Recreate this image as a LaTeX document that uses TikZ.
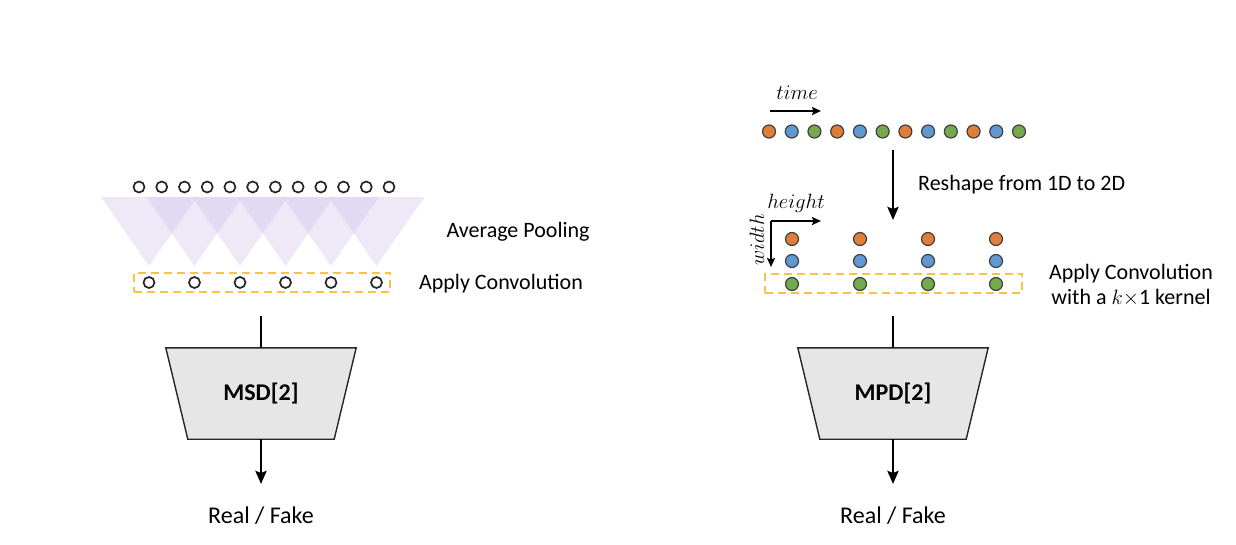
\documentclass[tikz,border=0pt]{standalone}
\usepackage{fontspec}
\setmainfont{Carlito}
\usetikzlibrary{arrows.meta}
\definecolor{cOrange}{RGB}{224,125,57}
\definecolor{cBlue}{RGB}{96,152,210}
\definecolor{cGreen}{RGB}{116,170,76}
\definecolor{cGold}{RGB}{250,196,60}
\definecolor{cLav}{RGB}{205,190,232}
\definecolor{cEdge}{RGB}{64,64,64}
\definecolor{cBox}{RGB}{230,230,230}
\begin{document}
\begin{tikzpicture}[x=1pt,y=-1pt,
  hollow/.style={circle,draw=black!85,line width=1.7pt,inner sep=0pt,minimum size=11pt,fill=white},
  dot/.style={circle,draw=cEdge,line width=1.2pt,inner sep=0pt,minimum size=13pt},
  convbox/.style={draw=cGold,line width=2.4pt,dash pattern=on 8pt off 5pt,inner sep=0pt},
  lbl/.style={font=\fontsize{22}{26}\selectfont,inner sep=0pt},
  var/.style={font=\fontsize{20}{24}\selectfont,inner sep=0pt},
  disc/.style={minimum width=190pt,minimum height=91pt,inner sep=0pt,
    font=\fontsize{24}{28}\selectfont\bfseries},
  discshape/.style={draw=black!85,line width=1.4pt,fill=cBox},
  conn/.style={line width=2.8pt},
  arr/.style={line width=2.8pt,-{Stealth[length=13pt,width=11pt,inset=2pt]}},
  smallarr/.style={line width=2.6pt,-{Stealth[length=9pt,width=8pt,inset=1.5pt]}},
  tri/.style={fill=cLav,fill opacity=0.35}
]
\useasboundingbox (0,0) rectangle (1236,544);

% ---------- LEFT: MSD ----------
\foreach \i in {0,...,5}{
  \pgfmathsetmacro{\ax}{149+45.5*\i}
  \fill[tri] (\ax-48,197) -- (\ax+48,197) -- (\ax,266) -- cycle;
}
\foreach \i in {0,...,11}{
  \node[hollow] (a\i) at ({139+22.727*\i},187) {};
}
\node[convbox,minimum width=256pt,minimum height=19.5pt] (lconv) at (262,282.5) {};
\foreach \i in {0,...,5}{
  \node[hollow] (b\i) at ({149+45.5*\i},282.5) {};
}
\node[lbl] (lpool) at (518,232) {Average Pooling};
\node[lbl] (lapply) at (501,284) {Apply Convolution};

\node[disc] (msd) at (261,393.5) {};
\draw[discshape] (msd.north west) -- (msd.north east) -- ([xshift=-22pt]msd.south east)
  -- ([xshift=22pt]msd.south west) -- cycle;
\node[disc] at (msd.center) {MSD[2]};
\coordinate (msdin) at (261,316);
\coordinate (msdout) at (261,484);
\draw[conn] (msdin) -- (msd.north);
\draw[arr] (msd.south) -- (msdout);
\node[font=\fontsize{24}{28}\selectfont,inner sep=0pt] (lreal) at (261,516) {Real / Fake};

% ---------- RIGHT: MPD ----------
\node[var] (time) at (797,93) {$time$};
\coordinate (ts) at (770,111);
\coordinate (te) at (821,111);
\draw[smallarr] (ts) -- (te);
\foreach \i in {0,...,11}{
  \pgfmathtruncatemacro{\m}{mod(\i,3)}
  \ifcase\m \def\cc{cOrange}\or \def\cc{cBlue}\or \def\cc{cGreen}\fi
  \node[dot,fill=\cc] (c\i) at ({769+22.727*\i},131.5) {};
}
\coordinate (rs) at (893,150);
\coordinate (re) at (893,220);
\draw[arr] (rs) -- (re);
\node[lbl,anchor=west] (reshape) at (918,185) {Reshape from 1D to 2D};

\node[var] (height) at (796,203) {$height$};
\node[var,rotate=90] (width) at (757,240) {$width$};
\coordinate (corner) at (771,221);
\coordinate (hend) at (821,221);
\coordinate (wend) at (771,267);
\draw[smallarr] (corner) -- (hend);
\draw[smallarr] (corner) -- (wend);

\node[convbox,minimum width=257pt,minimum height=19.5pt] (rconv) at (893.5,283.5) {};
\foreach \j/\x in {0/792,1/860,2/928,3/996}{
  \node[dot,fill=cOrange] (o\j) at (\x,239) {};
  \node[dot,fill=cBlue] (u\j) at (\x,261) {};
  \node[dot,fill=cGreen] (g\j) at (\x,284) {};
}
\node[lbl,align=center] (rapply) at (1131,285.5) {Apply Convolution\\[-1pt]with a $k{\times}$1 kernel};

\node[disc] (mpd) at (893,393.5) {};
\draw[discshape] (mpd.north west) -- (mpd.north east) -- ([xshift=-22pt]mpd.south east)
  -- ([xshift=22pt]mpd.south west) -- cycle;
\node[disc] at (mpd.center) {MPD[2]};
\coordinate (mpdin) at (893,316);
\coordinate (mpdout) at (893,484);
\draw[conn] (mpdin) -- (mpd.north);
\draw[arr] (mpd.south) -- (mpdout);
\node[font=\fontsize{24}{28}\selectfont,inner sep=0pt] (rreal) at (893,516) {Real / Fake};
\end{tikzpicture}
\end{document}
